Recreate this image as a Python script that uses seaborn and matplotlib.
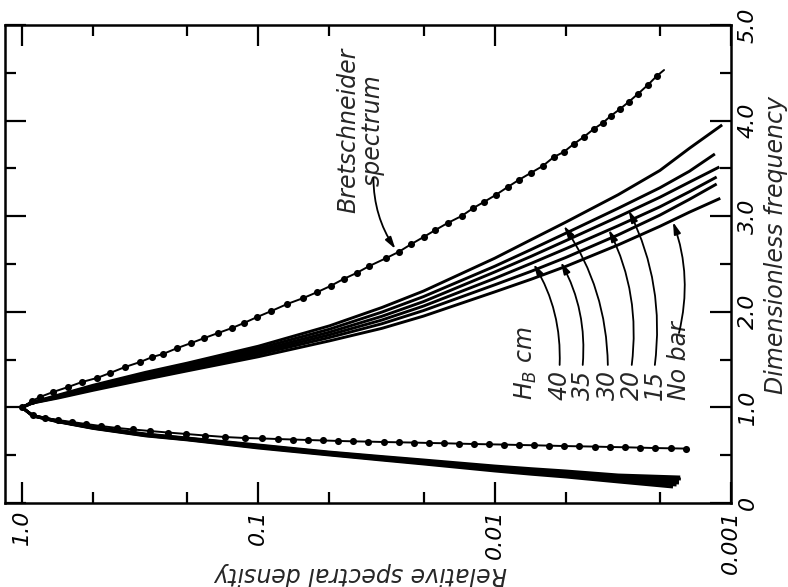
import matplotlib
matplotlib.use("Agg")
import matplotlib.pyplot as plt
from matplotlib.ticker import NullFormatter
import seaborn as sns
import pandas as pd

sns.set_style("ticks")
plt.rcParams["font.family"] = ["DejaVu Sans"]
plt.rcParams["font.style"] = "italic"
plt.rcParams["mathtext.fontset"] = "dejavusans"

# ---------------- data ----------------
# Bretschneider spectrum dots (relative density, dimensionless frequency), ordered by frequency
bret_density = [
    0.00155, 0.00180, 0.00210, 0.00243, 0.00281, 0.00326, 0.00377, 0.00441, 0.00510, 0.00590,
    0.00684, 0.00791, 0.00916, 0.0106, 0.0122, 0.0142, 0.0164, 0.0190, 0.0220, 0.0255,
    0.0295, 0.0342, 0.0396, 0.0458, 0.0530, 0.0614, 0.0711, 0.0823, 0.0962, 0.114,
    0.138, 0.168, 0.202, 0.241, 0.287, 0.339, 0.396, 0.463, 0.535, 0.614,
    0.704, 0.799, 0.898,
    1.0,
    0.907, 0.839, 0.739, 0.638, 0.557, 0.481, 0.424, 0.366, 0.316, 0.281,
    0.253, 0.220, 0.192, 0.169, 0.148, 0.129, 0.115, 0.101, 0.0881, 0.0754,
    0.0645, 0.0562, 0.0495, 0.0436, 0.0384, 0.0339, 0.0287, 0.0255, 0.0225, 0.0200,
    0.0178, 0.0158, 0.0138, 0.0123, 0.0111, 0.00990, 0.00881, 0.00791, 0.00704, 0.00626,
    0.00562, 0.00510, 0.00463, 0.00420, 0.00381, 0.00349, 0.00323, 0.00295, 0.00271, 0.00248,
    0.00225, 0.00206,
]
bret_freq = [
    0.569, 0.572, 0.575, 0.579, 0.583, 0.586, 0.590, 0.593, 0.596, 0.600,
    0.604, 0.607, 0.611, 0.614, 0.617, 0.621, 0.625, 0.628, 0.632, 0.635,
    0.638, 0.642, 0.645, 0.649, 0.654, 0.659, 0.664, 0.669, 0.675, 0.680,
    0.690, 0.706, 0.722, 0.737, 0.753, 0.769, 0.785, 0.805, 0.826, 0.847,
    0.868, 0.889, 0.921,
    1.0,
    1.067, 1.109, 1.161, 1.213, 1.266, 1.308, 1.360, 1.423, 1.475, 1.527,
    1.559, 1.621, 1.674, 1.726, 1.778, 1.831, 1.883, 1.946, 2.008, 2.082,
    2.144, 2.207, 2.270, 2.343, 2.406, 2.479, 2.563, 2.626, 2.709, 2.782,
    2.856, 2.929, 3.002, 3.086, 3.149, 3.222, 3.305, 3.379, 3.452, 3.525,
    3.619, 3.672, 3.755, 3.828, 3.912, 3.975, 4.048, 4.121, 4.195, 4.278,
    4.372, 4.467,
]
bret_line_end_density = 0.00192
bret_line_end_freq = 4.529

# measured spectra (six cases), each from low-frequency tail through peak to high-frequency tail
cases = ["40", "35", "30", "20", "15", "No bar"]
lower_density = [0.003, 0.005, 0.007, 0.01, 0.02, 0.03, 0.05, 0.1, 0.2, 0.3, 0.5, 0.7, 0.9]
lower_end_density = [0.00164, 0.00163, 0.00166, 0.00166, 0.00170, 0.00176]
lower_end_freq = [0.272, 0.251, 0.230, 0.209, 0.188, 0.167]
lower_freq = [
    [0.293, 0.335, 0.359, 0.387, 0.450, 0.486, 0.533, 0.607, 0.680, 0.722, 0.795, 0.858, 0.915],
    [0.278, 0.322, 0.347, 0.377, 0.442, 0.479, 0.527, 0.601, 0.676, 0.718, 0.792, 0.856, 0.914],
    [0.264, 0.310, 0.336, 0.366, 0.433, 0.471, 0.521, 0.594, 0.672, 0.714, 0.789, 0.854, 0.913],
    [0.249, 0.297, 0.324, 0.356, 0.425, 0.464, 0.514, 0.588, 0.668, 0.710, 0.786, 0.852, 0.912],
    [0.235, 0.285, 0.313, 0.345, 0.416, 0.456, 0.508, 0.582, 0.664, 0.706, 0.783, 0.850, 0.911],
    [0.220, 0.272, 0.301, 0.335, 0.408, 0.449, 0.502, 0.575, 0.660, 0.702, 0.780, 0.848, 0.910],
]
peak_density = 1.0
peak_freq = 1.0
upper_density = [0.9, 0.7, 0.5, 0.3, 0.2, 0.1, 0.05, 0.03, 0.02, 0.01, 0.007, 0.005, 0.003, 0.002, 0.0015]
upper_end_density = [0.00109, 0.00117, 0.00112, 0.00115, 0.00115, 0.00111]
upper_end_freq = [3.955, 3.651, 3.515, 3.410, 3.337, 3.187]
upper_freq = [
    [1.055, 1.130, 1.232, 1.367, 1.463, 1.640, 1.853, 2.045, 2.217, 2.560, 2.755, 2.938, 3.225, 3.478, 3.710],
    [1.053, 1.123, 1.220, 1.351, 1.445, 1.616, 1.818, 1.997, 2.159, 2.476, 2.652, 2.822, 3.083, 3.297, 3.470],
    [1.052, 1.117, 1.210, 1.336, 1.429, 1.594, 1.787, 1.953, 2.107, 2.416, 2.581, 2.744, 2.994, 3.198, 3.356],
    [1.050, 1.111, 1.200, 1.323, 1.414, 1.574, 1.759, 1.914, 2.060, 2.349, 2.507, 2.660, 2.900, 3.098, 3.256],
    [1.048, 1.106, 1.191, 1.310, 1.400, 1.554, 1.731, 1.875, 2.013, 2.282, 2.424, 2.568, 2.805, 3.011, 3.176],
    [1.046, 1.099, 1.179, 1.294, 1.382, 1.530, 1.696, 1.827, 1.955, 2.208, 2.341, 2.475, 2.700, 2.894, 3.042],
]

# arrow targets / label positions for the H_B annotations
arrow_tip_density = [0.00684, 0.00525, 0.00510, 0.00329, 0.00271, 0.00176]
arrow_tip_freq = [2.50, 2.52, 2.90, 2.86, 3.06, 2.94]
label_density = [0.00531, 0.00424, 0.00332, 0.00263, 0.00210, 0.00166]
label_freq = [1.077, 1.077, 1.077, 1.077, 1.077, 1.077]
arrow_start_freq = [1.444, 1.444, 1.444, 1.444, 1.444, 1.778]

x_ticks = [1.0, 0.1, 0.01, 0.001]
x_tick_labels = ["1.0", "0.1", "0.01", "0.001"]
x_minor = [0.5, 0.2, 0.05, 0.02, 0.005, 0.002]
y_ticks = [0, 1, 2, 3, 4, 5]
y_tick_labels = ["0", "1.0", "2.0", "3.0", "4.0", "5.0"]
y_minor = [0.5, 1.5, 2.5, 3.5, 4.5]

# ---------------- build tables ----------------
rows = []
for i, c in enumerate(cases):
    d = [lower_end_density[i]] + lower_density + [peak_density] + upper_density + [upper_end_density[i]]
    f = [lower_end_freq[i]] + lower_freq[i] + [peak_freq] + upper_freq[i] + [upper_end_freq[i]]
    for k, (dd, ff) in enumerate(zip(d, f)):
        rows.append({"case": c, "order": k, "density": dd, "freq": ff})
meas = pd.DataFrame(rows)

bret_line = pd.DataFrame({
    "density": bret_density + [bret_line_end_density],
    "freq": bret_freq + [bret_line_end_freq],
})
bret_dots = pd.DataFrame({"density": bret_density, "freq": bret_freq})

# ---------------- figure ----------------
fig = plt.figure(figsize=(7.88, 5.87), dpi=100)
ax = fig.add_axes([5 / 788, 1 - 503 / 587, 726 / 788, 478 / 587])
ax.set_xscale("log")

sns.lineplot(data=meas, x="density", y="freq", units="case", estimator=None,
             sort=False, color="black", linewidth=2.1, ax=ax,
             solid_joinstyle="round", solid_capstyle="butt")
sns.lineplot(data=bret_line, x="density", y="freq", estimator=None, sort=False,
             color="black", linewidth=1.4, ax=ax)
sns.scatterplot(data=bret_dots, x="density", y="freq", s=26, color="black",
                linewidth=0, zorder=3, ax=ax)

ax.set_xlim(1.18, 0.001)
ax.set_ylim(0, 5)

ax.set_xticks(x_ticks)
ax.set_xticklabels(x_tick_labels, rotation=90)
ax.set_xticks(x_minor, minor=True)
ax.xaxis.set_minor_formatter(NullFormatter())
ax.set_yticks(y_ticks)
ax.set_yticklabels(y_tick_labels, rotation=90, va="center")
ax.set_yticks(y_minor, minor=True)

ax.tick_params(which="both", direction="in", top=True, bottom=True, left=True,
               right=True, labelleft=False, labelright=True, labelbottom=True,
               labeltop=False, width=1.6, colors="black")
ax.tick_params(which="major", length=15, labelsize=16, pad=5)
ax.tick_params(which="minor", length=8)
for s in ax.spines.values():
    s.set_linewidth(1.8)
    s.set_color("black")

ax.set_xlabel("")
ax.set_ylabel("")
ax.text(0.49, -0.148, "Relative spectral density", transform=ax.transAxes,
        rotation=180, ha="center", va="center", fontsize=17)
ax.text(1.062, 0.54, "Dimensionless frequency", transform=ax.transAxes,
        rotation=90, ha="center", va="center", fontsize=17)

# Bretschneider label
ax.text(0.0370, 3.90, "Bretschneider\nspectrum", rotation=90, ha="center",
        va="center", multialignment="center", linespacing=1.0, fontsize=17)
ax.annotate("", xy=(0.0263, 2.657), xytext=(0.0326, 3.40),
            arrowprops=dict(arrowstyle="-|>,head_length=0.7,head_width=0.2",
                            connectionstyle="arc3,rad=0.15", color="black",
                            lw=1.3, shrinkA=0, shrinkB=0))

# H_B labels
ax.text(0.00739, 1.077, r"$H_B$ cm", rotation=90, ha="center", va="bottom", fontsize=17)
for i, c in enumerate(cases):
    ax.text(label_density[i], label_freq[i], c, rotation=90, ha="center",
            va="bottom", fontsize=17)
    ax.annotate("", xy=(arrow_tip_density[i], arrow_tip_freq[i]),
                xytext=(label_density[i], arrow_start_freq[i]),
                arrowprops=dict(arrowstyle="-|>,head_length=0.7,head_width=0.2",
                                connectionstyle="arc3,rad=0.15", color="black",
                                lw=1.3, shrinkA=0, shrinkB=0))

fig.savefig("out.png", dpi=100)
